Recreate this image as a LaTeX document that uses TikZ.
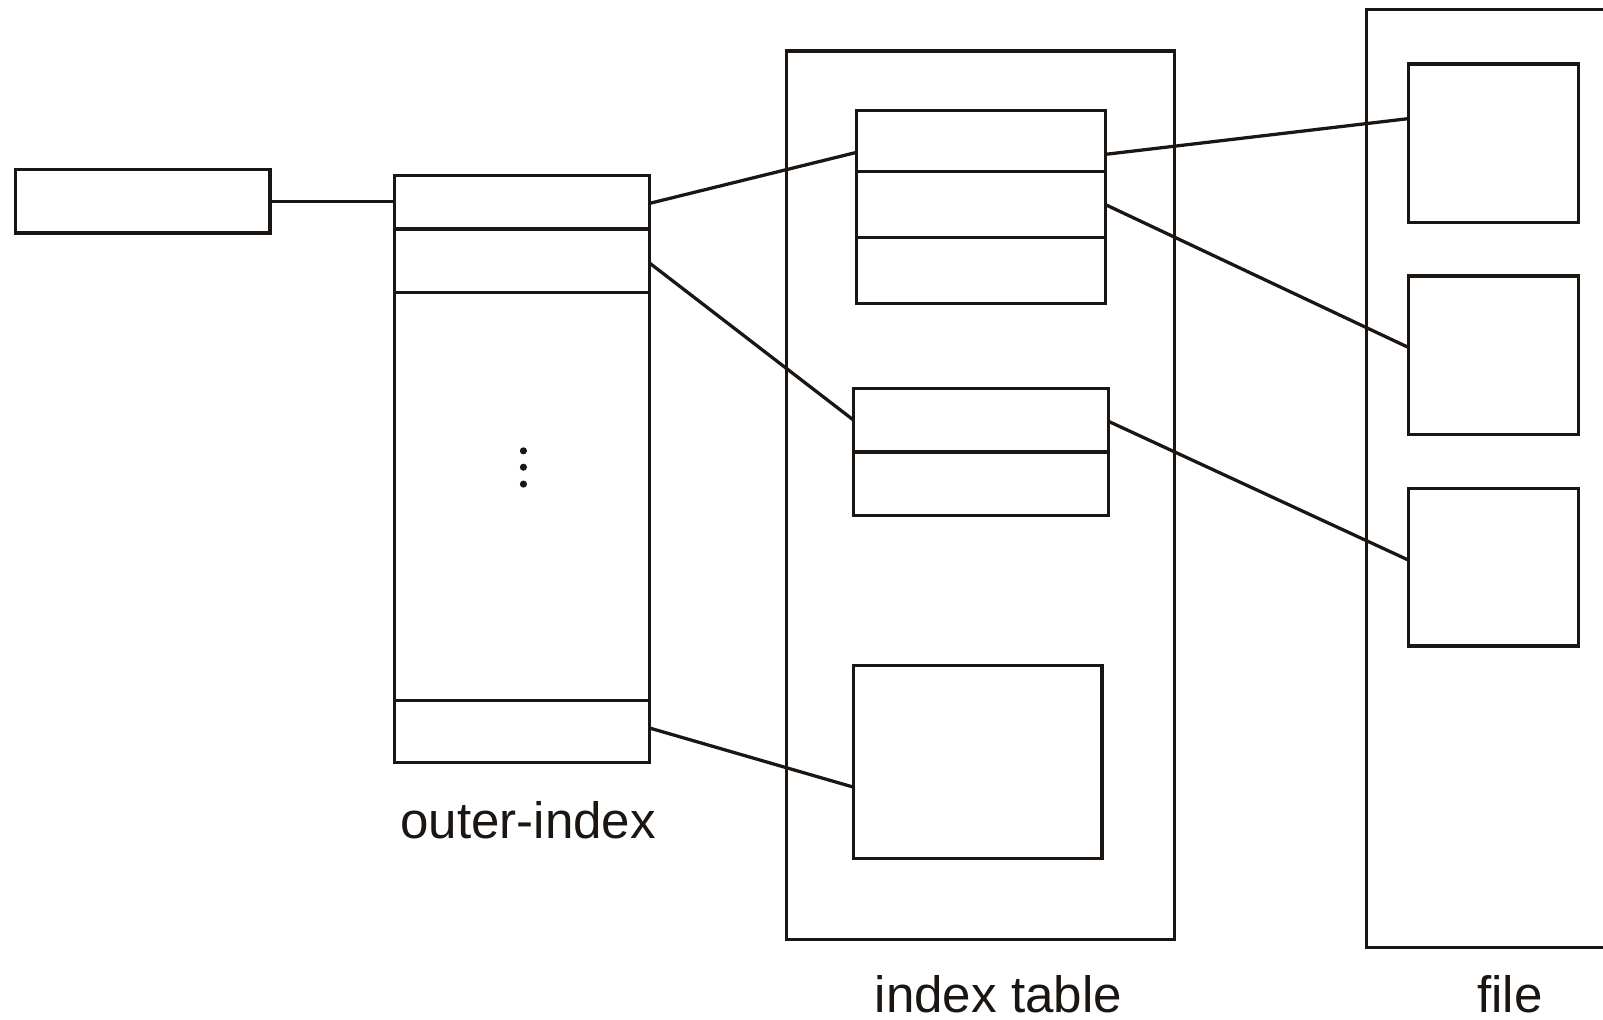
\documentclass[tikz,border=0pt]{standalone}
\usepackage{fontspec}
\setmainfont{Liberation Sans}
\definecolor{ink}{RGB}{28,22,18}
\begin{document}
\begin{tikzpicture}[x=1pt,y=-1pt,
  box/.style={draw=ink, line width=3.2pt, inner sep=0pt, outer sep=0pt, fill=none},
  link/.style={draw=ink, line width=3.2pt},
  lbl/.style={text=ink, font=\fontsize{50}{60}\selectfont, anchor=base, inner sep=0pt},
  dotmark/.style={fill=ink, circle, inner sep=0pt, minimum size=7pt}]
\useasboundingbox (0,0) rectangle (1568,997);
% input box
\node[box, minimum width=249pt, minimum height=62pt] (inp) at (139.5,197) {};
% outer index
\node[box, minimum width=249pt, minimum height=52pt] (o1) at (510.5,198) {};
\node[box, minimum width=249pt, minimum height=62pt] (o2) at (510.5,255) {};
\node[box, minimum width=249pt, minimum height=399pt] (om) at (510.5,485.5) {};
\node[box, minimum width=249pt, minimum height=61pt] (o3) at (510.5,715.5) {};
\node[dotmark] (d1) at (512,441) {};
\node[dotmark] (d2) at (512,457) {};
\node[dotmark] (d3) at (512,473.5) {};
\node[lbl] (lo) at (516.5,820) {outer-index};
% index table
\node[box, minimum width=380pt, minimum height=869pt] (itab) at (959,484.5) {};
\node[box, minimum width=243pt, minimum height=60pt] (b1r1) at (959.5,138) {};
\node[box, minimum width=243pt, minimum height=64pt] (b1r2) at (959.5,200) {};
\node[box, minimum width=243pt, minimum height=65pt] (b1r3) at (959.5,264.5) {};
\node[box, minimum width=249pt, minimum height=62pt] (b2r1) at (959.5,411) {};
\node[box, minimum width=249pt, minimum height=62pt] (b2r2) at (959.5,473) {};
\node[box, minimum width=243pt, minimum height=189pt] (b3) at (956.5,745.5) {};
\node[lbl] (li) at (976.5,990) {index table};
% file
\node[box, minimum width=300pt, minimum height=917pt] (ffr) at (1487,468) {};
\node[box, minimum width=166pt, minimum height=155pt] (f1) at (1461,140) {};
\node[box, minimum width=166pt, minimum height=155pt] (f2) at (1461,347.5) {};
\node[box, minimum width=166pt, minimum height=154pt] (f3) at (1461,555) {};
\node[lbl] (lf) at (1477,990) {file};
% connectors
\draw[link] (inp.east) -- ([yshift=1pt]o1.west);
\draw[link] ([yshift=-1pt]o1.east) -- ([yshift=-11pt]b1r1.west);
\draw[link] ([yshift=-2pt]o2.east) -- (b2r1.west);
\draw[link] ([yshift=3.5pt]o3.east) -- ([yshift=-24.5pt]b3.west);
\draw[link] ([yshift=-13pt]b1r1.east) -- ([yshift=24pt]f1.west);
\draw[link] (b1r2.east) -- ([yshift=7.5pt]f2.west);
\draw[link] ([yshift=-1pt]b2r1.east) -- ([yshift=7pt]f3.west);
\end{tikzpicture}
\end{document}
